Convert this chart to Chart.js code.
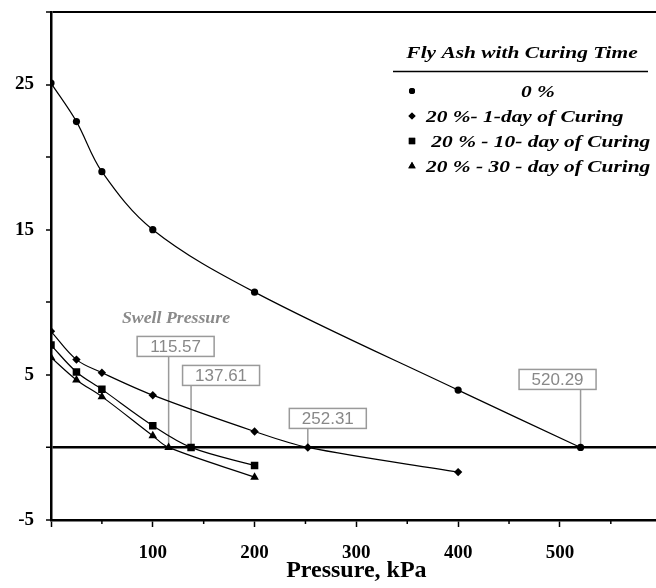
<!DOCTYPE html>
<html>
<head>
<meta charset="utf-8">
<script src="https://cdn.jsdelivr.net/npm/chart.js@4/dist/chart.umd.min.js"></script>
<style>
  html, body { margin: 0; padding: 0; background: #fff; overflow: hidden; }
  #wrap { width: 667px; height: 588px; }
</style>
</head>
<body>
<div id="wrap"><canvas id="chart" width="667" height="588"></canvas></div>
<script>
// Pressure (kPa) and swell (%) for each mix
const pressureFA0 = [0, 25, 50, 100, 200, 400, 520.29];
const swellFA0 = [25.1, 22.45, 19.0, 15.0, 10.7, 3.95, 0];

const pressureFA1 = [0, 25, 50, 100, 200, 252.31, 400];
const swellFA1 = [8.0, 6.05, 5.15, 3.6, 1.1, 0, -1.7];

const pressureFA10 = [0, 25, 50, 100, 137.61, 200];
const swellFA10 = [7.05, 5.2, 4.0, 1.5, 0, -1.25];

const pressureFA30 = [0, 25, 50, 100, 115.57, 200];
const swellFA30 = [6.2, 4.65, 3.5, 0.8, 0, -2.05];

const seriesNames = ["0 %", "20 %- 1-day of Curing", " 20 % - 10- day of Curing", "20 % - 30 - day of Curing"];
const swellPressures = [115.57, 137.61, 252.31, 520.29];
const yTickLabels = [-5, 5, 15, 25];
const xTickLabels = [100, 200, 300, 400, 500];

const serif = "'Liberation Serif', 'Times New Roman', serif";
const sans = "'Liberation Sans', Arial, sans-serif";

function toPoints(xs, ys) {
    return xs.map((v, i) => ({ x: v, y: ys[i] }));
}

function makeSet(label, xs, ys, style, radius) {
    return {
        label,
        data: toPoints(xs, ys),
        showLine: true,
        tension: 0.35,
        borderColor: "#000",
        borderWidth: 1.2,
        pointStyle: style,
        pointRadius: radius,
        pointBackgroundColor: "#000",
        pointBorderColor: "#000",
        pointBorderWidth: 0
    };
}

// text drawn a bit wider than the font, like the original figure
function wideText(ctx, text, x, y, stretch, align) {
    ctx.save();
    ctx.translate(x, y);
    ctx.scale(stretch, 1);
    ctx.textAlign = align;
    ctx.fillText(text, 0, 0);
    ctx.restore();
}

// callout boxes: offset of box centre from the leader line, top relative to the zero line
const calloutLayout = {
    115.57: { dx: 7, dy: -111 },
    137.61: { dx: 30, dy: -82 },
    252.31: { dx: 20, dy: -39 },
    520.29: { dx: -23, dy: -78 }
};

const overlay = {
    id: "overlay",
    beforeDatasetsDraw(chart) {
        const { ctx, scales: { x, y } } = chart;
        const y0 = y.getPixelForValue(0);
        ctx.save();
        ctx.font = "17px " + sans;
        ctx.textAlign = "center";
        ctx.textBaseline = "middle";
        swellPressures.forEach(v => {
            const px = x.getPixelForValue(v);
            const lay = calloutLayout[v];
            const w = 77, h = 20;
            const top = y0 + lay.dy;
            const cx = px + lay.dx;
            ctx.strokeStyle = "#9a9a9a";
            ctx.lineWidth = 1.5;
            ctx.beginPath();
            ctx.moveTo(px, top + h);
            ctx.lineTo(px, y0);
            ctx.stroke();
            ctx.fillStyle = "#fff";
            ctx.fillRect(cx - w / 2, top, w, h);
            ctx.strokeRect(cx - w / 2, top, w, h);
            ctx.fillStyle = "#888";
            ctx.fillText(v.toFixed(2), cx, top + h / 2 + 1);
        });
        ctx.font = "italic bold 16px " + serif;
        ctx.fillStyle = "#8a8a8a";
        ctx.textBaseline = "alphabetic";
        wideText(ctx, "Swell Pressure", 176, 323, 1.11, "center");
        ctx.restore();
    },
    afterDraw(chart) {
        const { ctx, scales: { x, y } } = chart;
        ctx.save();
        // minor ticks on the pressure axis
        ctx.strokeStyle = "#000";
        ctx.lineWidth = 1.5;
        for (let v = 50; v < 600; v += 100) {
            const px = x.getPixelForValue(v);
            ctx.beginPath();
            ctx.moveTo(px, y.bottom);
            ctx.lineTo(px, y.bottom + 4);
            ctx.stroke();
        }
        // legend
        ctx.fillStyle = "#000";
        ctx.font = "italic bold 17px " + serif;
        ctx.textBaseline = "alphabetic";
        wideText(ctx, "Fly Ash with Curing Time", 522, 58, 1.26, "center");
        ctx.lineWidth = 1.5;
        ctx.beginPath();
        ctx.moveTo(393, 71.5);
        ctx.lineTo(648, 71.5);
        ctx.stroke();
        chart.data.datasets.forEach((ds, i) => {
            const ly = 91 + i * 25;
            Chart.helpers.drawPoint(ctx, {
                pointStyle: ds.pointStyle,
                radius: ds.pointRadius * 0.85,
                rotation: 0,
                borderWidth: 0
            }, 412, ly);
            ctx.fill();
            ctx.fillStyle = "#000";
            if (i === 0) {
                wideText(ctx, ds.label, 538, ly + 6, 1.26, "center");
            } else {
                wideText(ctx, ds.label, 426, ly + 6, 1.26, "left");
            }
        });
        ctx.restore();
    }
};

new Chart(document.getElementById("chart"), {
    type: "scatter",
    data: {
        datasets: [
            makeSet(seriesNames[0], pressureFA0, swellFA0, "circle", 3.6),
            makeSet(seriesNames[1], pressureFA1, swellFA1, "rectRot", 4.2),
            makeSet(seriesNames[2], pressureFA10, swellFA10, "rect", 5.3),
            makeSet(seriesNames[3], pressureFA30, swellFA30, "triangle", 5)
        ]
    },
    options: {
        responsive: false,
        animation: false,
        layout: { padding: { top: 12, right: 0, left: 0, bottom: 0 } },
        plugins: {
            legend: { display: false },
            tooltip: { enabled: false }
        },
        scales: {
            x: {
                type: "linear",
                min: 0,
                max: 600,
                afterFit(scale) {
                    scale.height = 68;
                    scale.paddingLeft = 0;
                    scale.paddingRight = 0;
                },
                border: { display: true, color: "#000", width: 2.5 },
                grid: {
                    drawOnChartArea: false,
                    drawTicks: true,
                    tickLength: 7,
                    tickColor: "#000",
                    tickWidth: 1.5
                },
                ticks: {
                    stepSize: 100,
                    autoSkip: false,
                    maxRotation: 0,
                    padding: 15,
                    color: "#000",
                    font: { family: serif, size: 19, weight: "bold" },
                    callback: v => xTickLabels.includes(v) ? String(v) : ""
                },
                title: {
                    display: true,
                    text: "Pressure, kPa",
                    color: "#000",
                    font: { family: serif, size: 24, weight: "bold" },
                    padding: { top: 0, bottom: 3 }
                }
            },
            y: {
                type: "linear",
                min: -5,
                max: 30,
                afterFit(scale) {
                    scale.width = 51;
                    scale.paddingTop = 0;
                    scale.paddingBottom = 0;
                },
                border: { display: true, color: "#000", width: 2.5 },
                grid: {
                    drawOnChartArea: true,
                    drawTicks: true,
                    tickLength: 5,
                    color: c => (c.tick && (c.tick.value === 0 || c.tick.value === 30)) ? "#000" : "rgba(0,0,0,0)",
                    lineWidth: c => (c.tick && c.tick.value === 0) ? 2.5 : 2,
                    tickColor: "#000",
                    tickWidth: 1.5
                },
                ticks: {
                    stepSize: 5,
                    autoSkip: false,
                    padding: 12,
                    color: "#000",
                    font: { family: serif, size: 19, weight: "bold" },
                    callback: v => yTickLabels.includes(v) ? String(v) : ""
                }
            }
        }
    },
    plugins: [overlay]
});
</script>
</body>
</html>
